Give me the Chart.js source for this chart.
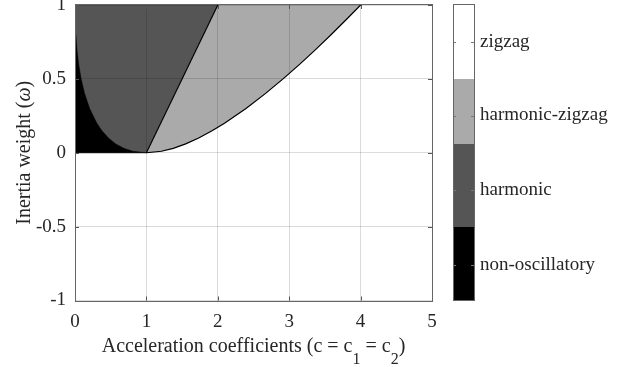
<!DOCTYPE html>
<html>
<head>
<meta charset="utf-8">
<script src="https://cdn.jsdelivr.net/npm/chart.js@4.4.1/dist/chart.umd.min.js"></script>
<style>
  html, body { margin: 0; padding: 0; background: #fff; }
  #wrap { width: 629px; height: 367px; }
</style>
</head>
<body>
<div id="wrap"><canvas id="chart_" width="629" height="367"></canvas></div>
<script>
// inertia weight samples (y) and the region boundaries (x = c)
const omegaPts    = [0, 0.01, 0.03, 0.06, 0.1, 0.15, 0.2, 0.3, 0.4, 0.5, 0.6, 0.7, 0.8, 0.9, 1];
const leftBranch  = [1, 0.81, 0.684, 0.57, 0.468, 0.375, 0.306, 0.205, 0.135, 0.086, 0.051, 0.027, 0.011, 0.003, 0];
const rightBranch = [1, 1.21, 1.376, 1.55, 1.732, 1.925, 2.094, 2.395, 2.665, 2.914, 3.149, 3.373, 3.589, 3.797, 4];
const splitOmega  = [0, 1];
const splitC      = [1, 2];

const xTicks = [0, 1, 2, 3, 4, 5];
const yTicks = [-1, -0.5, 0, 0.5, 1];
const regionNames = ['non-oscillatory', 'harmonic', 'harmonic-zigzag', 'zigzag'];

const regionColors = ['#000000', '#555555', '#aaaaaa', '#ffffff'];
const FONT = "'Liberation Serif', 'DejaVu Serif', serif";
const TXT = '#262626';

function pts(cs, ws) {
  return cs.map((c, i) => ({ x: c, y: ws[i] }));
}

const xMin = xTicks[0], xMax = xTicks[xTicks.length - 1];
const yMin = yTicks[0], yMax = yTicks[yTicks.length - 1];

// harmonic: box from y=0 up to the split line (black region is painted over it)
const harmonicPoly = [{ x: xMin, y: 0 }].concat(pts(splitC, splitOmega), [{ x: xMin, y: yMax }, { x: xMin, y: 0 }]);
// non-oscillatory: left of the left branch, above 0
const nonOscPoly = [{ x: xMin, y: 0 }].concat(pts(leftBranch, omegaPts), [{ x: xMin, y: 0 }]);
// harmonic-zigzag: between split line and right branch
const hzPoly = pts(splitC, splitOmega).concat(pts(rightBranch, omegaPts).reverse());
hzPoly.push({ x: splitC[0], y: splitOmega[0] });

const boxPlugin = {
  id: 'boxPlugin',
  afterDraw(chart) {
    const ctx = chart.ctx;
    const a = chart.chartArea;
    const sx = chart.scales.x, sy = chart.scales.y;
    ctx.save();
    // inward ticks
    ctx.strokeStyle = '#555';
    ctx.lineWidth = 1;
    ctx.beginPath();
    xTicks.forEach(v => {
      const px = Math.round(sx.getPixelForValue(v)) + 0.5;
      ctx.moveTo(px, a.bottom); ctx.lineTo(px, a.bottom - 4);
      ctx.moveTo(px, a.top); ctx.lineTo(px, a.top + 4);
    });
    yTicks.forEach(v => {
      const py = Math.round(sy.getPixelForValue(v)) + 0.5;
      ctx.moveTo(a.left, py); ctx.lineTo(a.left + 4, py);
      ctx.moveTo(a.right, py); ctx.lineTo(a.right - 4, py);
    });
    ctx.stroke();
    // axes box
    ctx.strokeStyle = '#666';
    ctx.strokeRect(Math.round(a.left) + 0.5, Math.round(a.top) - 0.5,
      Math.round(a.right - a.left), Math.round(a.bottom - a.top) + 1);

    // colorbar
    const cbL = 453, cbR = 474;
    const cbEdges = [301, 227, 144, 79, 5];
    for (let i = 0; i < regionColors.length; i++) {
      ctx.fillStyle = regionColors[i];
      ctx.fillRect(cbL, cbEdges[i + 1], cbR - cbL, cbEdges[i] - cbEdges[i + 1]);
    }
    const labelY = [265, 190, 115.5, 42];
    ctx.strokeStyle = '#777';
    ctx.beginPath();
    labelY.forEach(y => {
      const py = Math.round(y) + 0.5;
      ctx.moveTo(cbL, py); ctx.lineTo(cbL + 3, py);
      ctx.moveTo(cbR, py); ctx.lineTo(cbR - 3, py);
    });
    ctx.stroke();
    ctx.strokeStyle = '#666';
    ctx.strokeRect(cbL + 0.5, cbEdges[4] - 0.5, cbR - cbL, cbEdges[0] - cbEdges[4]);
    ctx.fillStyle = TXT;
    ctx.font = '19px ' + FONT;
    ctx.textAlign = 'left';
    ctx.textBaseline = 'middle';
    regionNames.forEach((n, i) => ctx.fillText(n, 480, labelY[i]));

    // x title with subscripts, centred under the axes
    const big = '20px ' + FONT, sub = '16px ' + FONT;
    const parts = [['Acceleration coefficients (c = c', 0], ['1', 1], [' = c', 0], ['2', 1], [')', 0]];
    let w = 0;
    parts.forEach(p => { ctx.font = p[1] ? sub : big; w += ctx.measureText(p[0]).width; });
    let x = (a.left + a.right) / 2 - w / 2;
    ctx.textBaseline = 'alphabetic';
    parts.forEach(p => {
      ctx.font = p[1] ? sub : big;
      ctx.fillText(p[0], x, p[1] ? 364 : 352);
      x += ctx.measureText(p[0]).width;
    });

    // y title, rotated, omega in italic
    ctx.translate(30, (a.top + a.bottom) / 2);
    ctx.rotate(-Math.PI / 2);
    const yparts = [['Inertia weight (', ''], ['\u03c9', 'italic '], [')', '']];
    let yw = 0;
    yparts.forEach(p => { ctx.font = p[1] + '20px ' + FONT; yw += ctx.measureText(p[0]).width; });
    let yx = -yw / 2;
    yparts.forEach(p => {
      ctx.font = p[1] + '20px ' + FONT;
      ctx.fillText(p[0], yx, 0);
      yx += ctx.measureText(p[0]).width;
    });
    ctx.restore();
  }
};

const polyStyle = (d, color, order) => ({
  data: d,
  showLine: true,
  fill: 'shape',
  backgroundColor: color,
  borderColor: color,
  borderWidth: 0.5,
  pointRadius: 0,
  tension: 0,
  order: order
});

const lineStyle = (d) => ({
  data: d,
  showLine: true,
  fill: false,
  borderColor: '#000',
  borderWidth: 1.2,
  pointRadius: 0,
  tension: 0,
  order: 1
});

const config = {
  type: 'scatter',
  data: {
    datasets: [
      polyStyle(harmonicPoly, regionColors[1], 6),
      polyStyle(hzPoly, regionColors[2], 5),
      polyStyle(nonOscPoly, regionColors[0], 4),
      lineStyle(pts(splitC, splitOmega)),
      lineStyle(pts(rightBranch, omegaPts))
    ]
  },
  options: {
    responsive: false,
    animation: false,
    events: [],
    layout: { padding: { top: 5, right: 197, left: 0, bottom: 0 } },
    plugins: { legend: { display: false }, tooltip: { enabled: false } },
    scales: {
      x: {
        type: 'linear', min: xMin, max: xMax,
        afterBuildTicks: s => { s.ticks = xTicks.map(v => ({ value: v })); },
        afterFit: s => { s.height = 66.5; s.paddingLeft = 0; s.paddingRight = 0; },
        border: { display: false },
        grid: { color: 'rgba(0,0,0,0.14)', z: 1, drawTicks: false },
        ticks: { padding: 10, color: TXT, font: { family: FONT, size: 19 }, callback: v => String(v) }
      },
      y: {
        type: 'linear', min: yMin, max: yMax,
        afterBuildTicks: s => { s.ticks = yTicks.map(v => ({ value: v })); },
        afterFit: s => { s.width = 75; s.paddingTop = 0; s.paddingBottom = 0; },
        border: { display: false },
        grid: { color: 'rgba(0,0,0,0.14)', z: 1, drawTicks: false },
        ticks: { padding: 9, color: TXT, font: { family: FONT, size: 19 }, callback: v => String(v) }
      }
    }
  },
  plugins: [boxPlugin]
};

new Chart(document.getElementById('chart_'), config);
</script>
</body>
</html>
